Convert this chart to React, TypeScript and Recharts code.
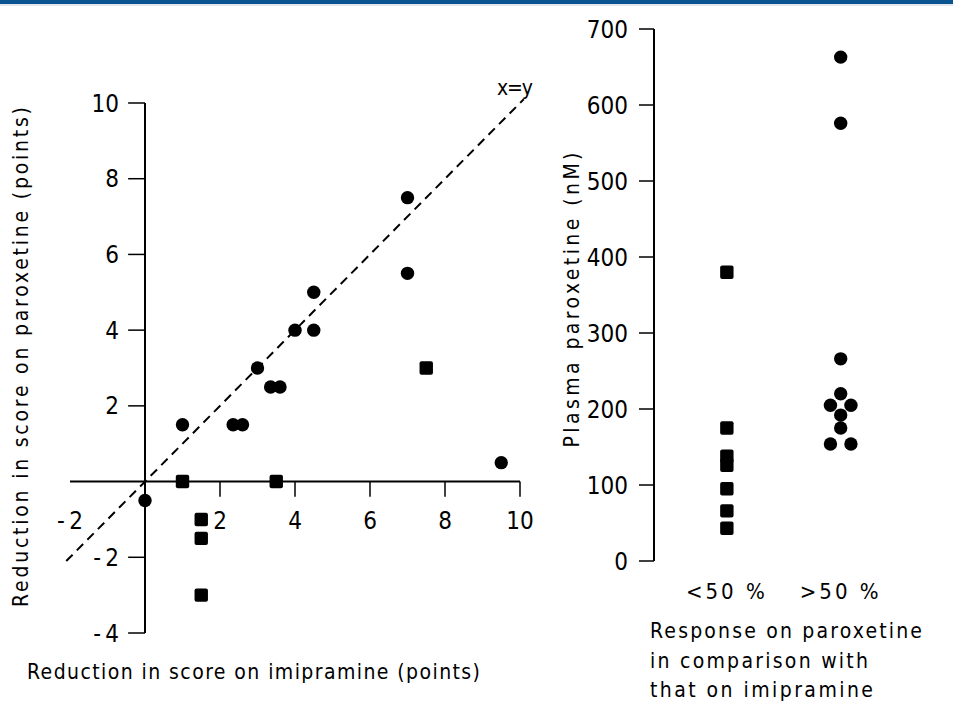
import React from "react";
import {
  ScatterChart,
  Scatter,
  XAxis,
  YAxis,
  ReferenceLine,
  ReferenceDot,
} from "recharts";

const FONT =
  "'Liberation Sans Narrow', 'DejaVu Sans Condensed', 'DejaVu Sans', sans-serif";

// left panel: reduction in score on imipramine (x) vs paroxetine (y)
const leftCircles = [
  { x: 0, y: -0.5 },
  { x: 1, y: 1.5 },
  { x: 2.35, y: 1.5 },
  { x: 2.6, y: 1.5 },
  { x: 3, y: 3 },
  { x: 3.35, y: 2.5 },
  { x: 3.6, y: 2.5 },
  { x: 4, y: 4 },
  { x: 4.5, y: 4 },
  { x: 4.5, y: 5 },
  { x: 7, y: 7.5 },
  { x: 7, y: 5.5 },
  { x: 9.5, y: 0.5 },
];
const leftSquares = [
  { x: 1, y: 0 },
  { x: 3.5, y: 0 },
  { x: 1.5, y: -1 },
  { x: 1.5, y: -1.5 },
  { x: 1.5, y: -3 },
  { x: 7.5, y: 3 },
];
const leftYTicks = [-4, -2, 2, 4, 6, 8, 10];
const leftXTicks = [2, 4, 6, 8, 10];
const leftXLabels = [-2, 2, 4, 6, 8, 10];

// right panel: plasma paroxetine (nM) by response group
const groupLabels = ["<50 %", ">50 %"];
const lowPlasma = [380, 175, 138, 126, 95, 66, 43];
const lowX = [1, 1, 1, 1, 1, 1, 1];
const highPlasma = [663, 576, 266, 220, 205, 205, 192, 175, 154, 154];
const highX = [2, 2, 2, 2, 1.91, 2.09, 2, 2, 1.91, 2.09];
const rightYTicks = [0, 100, 200, 300, 400, 500, 600, 700];

const lowData = lowPlasma.map((y, i) => ({ x: lowX[i], y }));
const highData = highPlasma.map((y, i) => ({ x: highX[i], y }));

const Circle = (p: any) => <circle cx={p.cx} cy={p.cy} r={6.7} fill="#000" />;
const Square = (p: any) => (
  <rect x={p.cx - 6.7} y={p.cy - 6.7} width={13.4} height={13.4} rx={2} fill="#000" />
);

const neg = (v: number) => (v < 0 ? "-\u2009" + Math.abs(v) : String(v));

const tickFont = { fontSize: 24, fill: "#000", fontFamily: FONT };

function LeftPanel() {
  return (
    <ScatterChart
      width={560}
      height={703}
      margin={{ top: 103, right: 40, bottom: 70, left: 70 }}
    >
      <XAxis type="number" dataKey="x" domain={[-2, 10]} hide />
      <YAxis type="number" dataKey="y" domain={[-4, 10]} hide />
      <ReferenceLine x={0} stroke="#000" strokeWidth={2} />
      <ReferenceLine y={0} stroke="#000" strokeWidth={2} />
      {leftYTicks.map((v) => (
        <ReferenceLine
          key={"yt" + v}
          segment={[
            { x: -0.45, y: v },
            { x: 0, y: v },
          ]}
          stroke="#000"
          strokeWidth={1.5}
        />
      ))}
      {leftYTicks.map((v) => (
        <ReferenceDot
          key={"yl" + v}
          x={0}
          y={v}
          r={0}
          label={{ value: neg(v), position: "left", offset: 26, ...tickFont }}
        />
      ))}
      {leftXTicks.map((v) => (
        <ReferenceLine
          key={"xt" + v}
          segment={[
            { x: v, y: 0 },
            { x: v, y: -0.4 },
          ]}
          stroke="#000"
          strokeWidth={1.5}
        />
      ))}
      {leftXLabels.map((v) => (
        <ReferenceDot
          key={"xl" + v}
          x={v}
          y={0}
          r={0}
          label={{ value: neg(v), position: "bottom", offset: 30, ...tickFont }}
        />
      ))}
      <ReferenceLine
        segment={[
          { x: -2.1, y: -2.1 },
          { x: 10.1, y: 10.1 },
        ]}
        ifOverflow="visible"
        stroke="#000"
        strokeWidth={2}
        strokeDasharray="9 6"
      />
      <Scatter data={leftCircles} shape={Circle} isAnimationActive={false} />
      <Scatter data={leftSquares} shape={Square} isAnimationActive={false} />
    </ScatterChart>
  );
}

function RightPanel() {
  return (
    <ScatterChart
      width={393}
      height={703}
      margin={{ top: 29, right: 44, bottom: 112, left: 0 }}
    >
      <XAxis
        type="number"
        dataKey="x"
        domain={[0.36, 2.6]}
        ticks={[1, 2]}
        tickFormatter={(v: number) => groupLabels[v - 1]}
        axisLine={false}
        tickLine={false}
        tickSize={6}
        tickMargin={16}
        height={30}
        tick={{ fontSize: 22, fill: "#000", fontFamily: FONT, letterSpacing: 3 }}
      />
      <YAxis
        type="number"
        dataKey="y"
        domain={[0, 700]}
        ticks={rightYTicks}
        width={94}
        tickSize={15}
        tickMargin={11}
        axisLine={{ stroke: "#000", strokeWidth: 2 }}
        tickLine={{ stroke: "#000", strokeWidth: 1.5 }}
        tick={tickFont}
      />
      <Scatter data={lowData} shape={Square} isAnimationActive={false} />
      <Scatter data={highData} shape={Circle} isAnimationActive={false} />
    </ScatterChart>
  );
}

export default function App() {
  const txt = { fontFamily: FONT, fontSize: 21, fill: "#000" };
  return (
    <div
      style={{
        position: "absolute",
        left: 0,
        top: 0,
        width: 953,
        height: 703,
        background: "#fff",
        overflow: "hidden",
      }}
    >
      <div style={{ position: "absolute", left: 0, top: 0, width: 953, height: 4, background: "#0a5391" }} />
      <div style={{ position: "absolute", left: 0, top: 4, width: 953, height: 2, background: "#e4e8ee" }} />
      <div style={{ position: "absolute", left: 0, top: 0 }}>
        <LeftPanel />
      </div>
      <div style={{ position: "absolute", left: 560, top: 0 }}>
        <RightPanel />
      </div>
      <svg
        width={953}
        height={703}
        style={{ position: "absolute", left: 0, top: 0, pointerEvents: "none" }}
      >
        <text {...txt} x={28} y={357} textAnchor="middle" textLength={500} lengthAdjust="spacing" transform="rotate(-90 28 357)">
          Reduction in score on paroxetine (points)
        </text>
        <text {...txt} x={27} y={679} textLength={453} lengthAdjust="spacing">
          Reduction in score on imipramine (points)
        </text>
        <text {...txt} x={515} y={95} textAnchor="middle" textLength={36} lengthAdjust="spacing">
          x=y
        </text>
        <text {...txt} x={579} y={300} textAnchor="middle" textLength={295} lengthAdjust="spacing" transform="rotate(-90 579 300)">
          Plasma paroxetine (nM)
        </text>
        <text {...txt} x={650} y={638} textLength={272} lengthAdjust="spacing">
          Response on paroxetine
        </text>
        <text {...txt} x={650} y={668} textLength={218} lengthAdjust="spacing">
          in comparison with
        </text>
        <text {...txt} x={650} y={697} textLength={223} lengthAdjust="spacing">
          that on imipramine
        </text>
      </svg>
    </div>
  );
}
